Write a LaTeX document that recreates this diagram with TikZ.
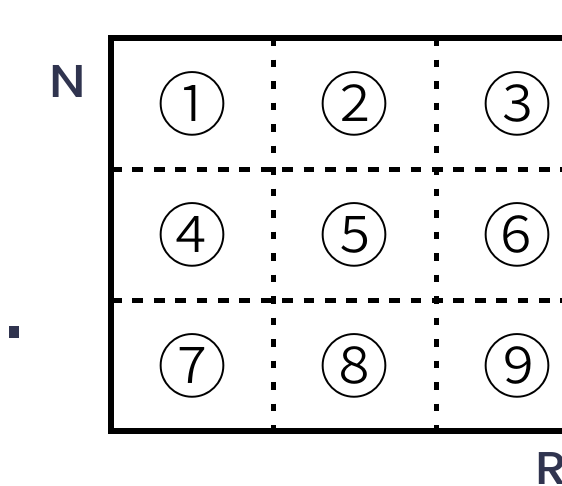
\documentclass[tikz,border=0pt]{standalone}
\usepackage{fontspec}
\newfontfamily\cjkfont{Noto Sans CJK JP}[UprightFont={* Light}]
\newfontfamily\labelfont{Poppins}[UprightFont={* Medium}]
\usetikzlibrary{positioning}
\definecolor{navy}{HTML}{30344F}
\tikzset{
  frame/.style={line width=6pt},
  hdash/.style={line width=5pt,dash pattern=on 10.7pt off 10.7pt},
  vdash/.style={line width=5pt,dash pattern=on 7.5pt off 14pt},
  cellnum/.style={font=\cjkfont\fontsize{70}{70}\selectfont,inner sep=0pt},
  sidelabel/.style={font=\labelfont\fontsize{46}{46}\selectfont,text=navy,inner sep=0pt,xscale=1.1}
}

\begin{document}
\begin{tikzpicture}[x=1pt,y=-1pt]
  \useasboundingbox (0,0) rectangle (562,485);
  \clip (0,0) rectangle (562,485);

  % grid corners
  \coordinate (tl) at (111,38);
  \coordinate (bl) at (111,431);
  \coordinate (tr) at (599,38);
  \coordinate (br) at (599,431);

  % dashed cell borders
  \foreach \y in {169,300}
    \draw[hdash] (111,\y) -- (599,\y);
  \foreach \x in {273.5,436}
    \draw[vdash] (\x,38) -- (\x,431);

  % outer frame
  \draw[frame] (tr) -- (tl) -- (bl) -- (br);

  % circled numbers
  \foreach \r in {0,1,2}
    \foreach \c in {0,1,2} {
      \pgfmathtruncatemacro\k{3*\r+\c+1}
      \node[cellnum] (cell\k) at (192.25+162.5*\c,103.5+131*\r)
        {\char\numexpr"245F+\k\relax};
    }

  % side labels
  \node[sidelabel] (nlabel) at (68,81) {N};
  \node[sidelabel,anchor=base west] (rlabel) at (535,484) {R};
  \fill[navy] (9,326) rectangle (19,337.5);
\end{tikzpicture}
\end{document}
